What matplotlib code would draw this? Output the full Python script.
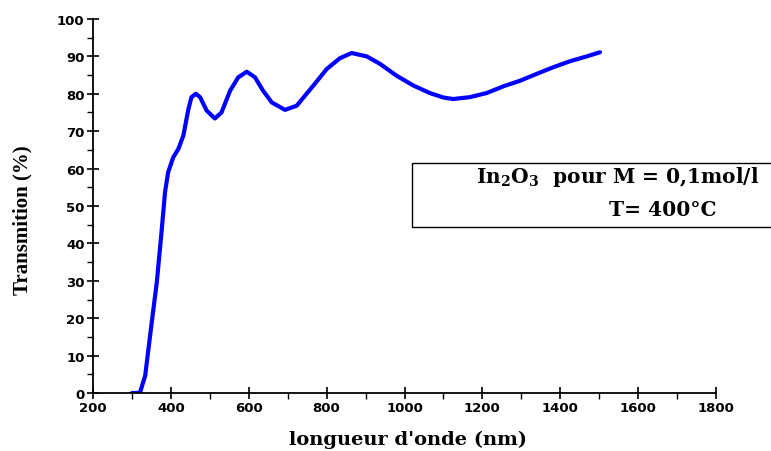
import matplotlib.pyplot as plt
from matplotlib.patches import Rectangle
from matplotlib.ticker import MultipleLocator

plt.rcParams["mathtext.fontset"] = "custom"
plt.rcParams["mathtext.bf"] = "DejaVu Serif:bold"
plt.rcParams["mathtext.rm"] = "DejaVu Serif:bold"

# values
wavelength = [300, 315, 321, 334, 351, 364, 376, 385, 393, 406, 419, 432, 445, 453,
              464, 475, 492, 513, 530, 552, 573, 595, 616, 637, 659, 693, 723,
              766, 800, 834, 864, 903, 937, 980, 1023, 1065, 1100, 1125, 1168,
              1211, 1254, 1297, 1339, 1382, 1425, 1468, 1502]
transmission = [0, 0, 0.2, 4.6, 19, 29.7, 43, 53.7, 59.0, 63.0, 65.2, 68.8, 75.9, 79.1,
                80, 79.1, 75.5, 73.4, 75, 80.8, 84.4, 85.9, 84.4, 80.8, 77.7, 75.7, 76.8,
                82.2, 86.6, 89.5, 90.9, 90.0, 88.0, 84.8, 82.2, 80.2, 79.0, 78.6, 79.1,
                80.2, 82.0, 83.5, 85.3, 87.1, 88.7, 90.0, 91.1]

x_ticks = [200, 400, 600, 800, 1000, 1200, 1400, 1600, 1800]
y_ticks = [0, 10, 20, 30, 40, 50, 60, 70, 80, 90, 100]

fig = plt.figure(figsize=(7.71, 4.52), dpi=100)
ax = fig.add_axes([0.1206, 0.1283, 0.8081, 0.8275])

ax.plot(wavelength, transmission, color="#0000ff", linewidth=3.0,
        solid_capstyle="round", solid_joinstyle="round")

ax.set_xlim(200, 1800)
ax.set_ylim(0, 100)
ax.set_xticks(x_ticks)
ax.set_yticks(y_ticks)
ax.xaxis.set_minor_locator(MultipleLocator(100))
ax.yaxis.set_minor_locator(MultipleLocator(5))

for side in ["top", "right"]:
    ax.spines[side].set_visible(False)
for side in ["left", "bottom"]:
    ax.spines[side].set_linewidth(1.3)

ax.tick_params(which="major", direction="inout", length=8, width=1.2,
               labelsize=9.5, pad=2)
ax.tick_params(which="minor", direction="out", length=4, width=1.0)
for lbl in ax.get_xticklabels() + ax.get_yticklabels():
    lbl.set_fontfamily("DejaVu Sans")
    lbl.set_fontweight("bold")

ax.set_xlabel("longueur d'onde (nm)", family="DejaVu Serif", fontweight="bold",
              fontsize=14, va="center", ha="center")
ax.xaxis.set_label_coords(0.505, -0.123)
ax.set_ylabel("Transmition (%)", family="Liberation Serif", fontweight="bold",
              fontsize=15, va="center", ha="center")
ax.yaxis.set_label_coords(-0.113, 0.465)

# legend-like box at the right
box = Rectangle((0.534, 0.4949), 0.47, 0.1423, transform=fig.transFigure,
                facecolor="white", edgecolor="black", linewidth=1.0)
fig.patches.append(box)
fig.text(0.985, 0.5945, r"In$_\mathbf{2}$O$_\mathbf{3}$  pour M = 0,1mol/l", ha="right",
         va="baseline", family="DejaVu Serif", fontweight="bold", fontsize=14.5)
fig.text(0.859, 0.5228, "T= 400°C", ha="center", va="baseline",
         family="DejaVu Serif", fontweight="bold", fontsize=14.5)

plt.savefig("out.png", dpi=100)
